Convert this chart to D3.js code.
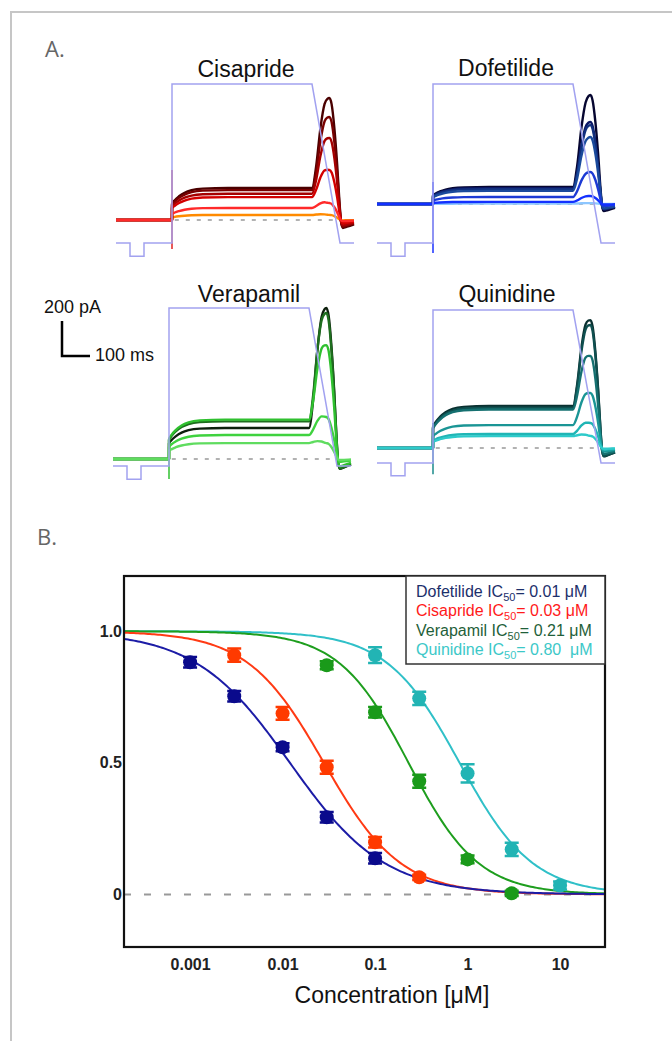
<!DOCTYPE html>
<html>
<head>
<meta charset="utf-8">
<script src="https://cdn.jsdelivr.net/npm/d3@7"></script>
<style>
body{margin:0;background:#fff}
svg{display:block}
</style>
</head>
<body>
<script>
// ---- A. hERG current traces ----
// plateau current during the step and peak tail current on the ramp (pA), one entry per trace
const cisaprideStep = [29, 183, 171, 150, 131, 69]
const cisapridePeak = [29, 697, 589, 469, 286, 97]
const dofetilideStep = [2, 97, 90, 85, 75, 40, 12]
const dofetilidePeak = [5, 623, 469, 451, 383, 183, 46]
const verapamilStep = [177, 215, 225, 137, 91]
const verapamilPeak = [863, 834, 651, 240, 91]
const quinidineStep = [240, 230, 220, 131, 80, 68]
const quinidinePeak = [731, 703, 526, 314, 143, 69]
// capacitive transient at step onset [up, down], pA
const spikes = [[286, -166], [126, -280], [0, -114], [143, -150]]

// shared trace template: time (ms), fraction of plateau, fraction of tail peak
const traceT =     [0, 199.9, 200.1, 210, 225, 245, 270, 310, 400, 700, 715, 730, 745, 755, 762, 770, 780, 790, 798, 804, 810, 825, 850]
const stepShape =  [0, 0, 0.5, 0.62, 0.74, 0.85, 0.93, 0.98, 1, 1, 0.85, 0.5, 0.2, 0.05, 0, 0, 0, 0, 0, 0, 0, 0, 0]
const tailShape =  [0, 0, 0, 0, 0, 0, 0, 0, 0, 0, 0.22, 0.62, 0.9, 0.98, 1, 0.95, 0.75, 0.45, 0.15, -0.02, -0.065, -0.055, -0.035]

// voltage protocol (ms, mV)
const protoT = [0, 50, 50, 100, 100, 200, 200, 700, 800, 850]
const protoV = [-80, -80, -90, -90, -80, -80, 40, 40, -80, -80]

// ---- B. concentration response ----
const concDof = [0.001, 0.003, 0.01, 0.03, 0.1]
const respDof = [0.882, 0.753, 0.559, 0.293, 0.137]
const semDof = [0.02, 0.02, 0.015, 0.02, 0.02]
const concCis = [0.003, 0.01, 0.03, 0.1, 0.3]
const respCis = [0.909, 0.688, 0.483, 0.198, 0.065]
const semCis = [0.025, 0.024, 0.025, 0.02, 0.01]
const concVer = [0.03, 0.1, 0.3, 1, 3]
const respVer = [0.871, 0.692, 0.43, 0.133, 0.004]
const semVer = [0.015, 0.02, 0.025, 0.015, 0.01]
const concQui = [0.1, 0.3, 1, 3, 10]
const respQui = [0.909, 0.745, 0.46, 0.171, 0.034]
const semQui = [0.03, 0.025, 0.035, 0.025, 0.015]
// Hill fits
const fitIC50 = [0.012, 0.028, 0.23, 0.82]
const fitHill = [0.85, 1.05, 1.15, 1.1]
const legendNames = ['Dofetilide', 'Cisapride', 'Verapamil', 'Quinidine']
const legendIC50 = ['0.01 μM', '0.03 μM', '0.21 μM', '0.80\u00a0 μM']
const xTicks = [0.001, 0.01, 0.1, 1, 10]
const xTickLabels = ['0.001', '0.01', '0.1', '1', '10']
const yTicks = [0, 0.5, 1]
const yTickLabels = ['0', '0.5', '1.0']

const W = 672, H = 1041
const font = '"Liberation Sans", Arial, sans-serif'
const svg = d3.select('body').append('svg')
	.attr('width', W).attr('height', H)
	.style('font-family', font)

// page frame
svg.append('path')
	.attr('d', `M11,${H}V12H${W}`)
	.attr('fill', 'none').attr('stroke', '#c6c6c6').attr('stroke-width', 2)

svg.append('text').attr('x', 45).attr('y', 57).text('A.')
	.attr('font-family', '"Open Sans", sans-serif').attr('font-size', 22).attr('fill', '#666')
svg.append('text').attr('x', 37).attr('y', 545).text('B.')
	.attr('font-family', '"Open Sans", sans-serif').attr('font-size', 22).attr('fill', '#666')

const pxPerMs = 0.28, pxPer200pA = 35
const panels = [
	{name: 'Cisapride', step: cisaprideStep, peak: cisapridePeak,
	 colors: ['#ff8a00', '#4a0000', '#780000', '#a50000', '#d30000', '#ff2a2a'], spikeColor: '#e02020',
	 x0: 116, zeroY: 220, vTop: 84, vHold: 243, tx: 246, ty: 77},
	{name: 'Dofetilide', step: dofetilideStep, peak: dofetilidePeak,
	 colors: ['#8cc6ff', '#060630', '#0b1766', '#12307e', '#1a4a9c', '#1c3ad4', '#1230ff'], spikeColor: '#1a30ff',
	 x0: 377, zeroY: 204, vTop: 84, vHold: 243, tx: 506, ty: 76},
	{name: 'Verapamil', step: verapamilStep, peak: verapamilPeak,
	 colors: ['#0d1f0d', '#1e6e1e', '#2fc02f', '#3fd23f', '#5fdc5f'], spikeColor: '#30c030',
	 x0: 113, zeroY: 459, vTop: 308, vHold: 466, tx: 249, ty: 302},
	{name: 'Quinidine', step: quinidineStep, peak: quinidinePeak,
	 colors: ['#0a3030', '#0f4f4f', '#157070', '#1a9595', '#20b5b5', '#2ecaca'], spikeColor: '#1a8a8a',
	 x0: 377, zeroY: 448, vTop: 310, vHold: 463, tx: 507, ty: 302}
]

panels.forEach((p, pi) => {
	const g = svg.append('g')
	const x = d3.scaleLinear().domain([0, 850]).range([p.x0, p.x0 + 850 * pxPerMs])
	const y = d3.scaleLinear().domain([0, 200]).range([p.zeroY, p.zeroY - pxPer200pA])
	const v = d3.scaleLinear().domain([-80, 40]).range([p.vHold, p.vTop])

	g.append('line')
		.attr('x1', x(210)).attr('x2', x(780))
		.attr('y1', y(0)).attr('y2', y(0))
		.attr('stroke', '#999').attr('stroke-width', 1.5).attr('stroke-dasharray', '4,7')

	const line = d3.line()
		.x(d => x(d[0]))
		.y(d => y(d[1]))
		.curve(d3.curveMonotoneX)

	const traces = p.step.map((s, i) => traceT.map((t, k) => [t, s * stepShape[k] + p.peak[i] * tailShape[k]]))
	g.selectAll('path.trace')
		.data(traces)
		.join('path')
		.attr('class', 'trace')
		.attr('fill', 'none')
		.attr('stroke', (d, i) => p.colors[i])
		.attr('stroke-width', 2.4)
		.attr('stroke-linejoin', 'round')
		.attr('d', line)

	g.append('line')
		.attr('x1', x(200)).attr('x2', x(200))
		.attr('y1', y(spikes[pi][0])).attr('y2', y(spikes[pi][1]))
		.attr('stroke', p.spikeColor).attr('stroke-width', 1.5)

	g.append('path')
		.datum(protoT.map((t, i) => [t, protoV[i]]))
		.attr('fill', 'none')
		.attr('stroke', '#a2a2f0')
		.attr('stroke-width', 1.5)
		.attr('d', d3.line().x(d => x(d[0])).y(d => v(d[1])))

	g.append('text')
		.attr('x', p.tx).attr('y', p.ty)
		.attr('text-anchor', 'middle')
		.attr('font-size', 23).attr('fill', '#111')
		.text(p.name)

	// scale bar sits left of the Verapamil record
	if (p.name === 'Verapamil') {
		const bx = 62, by = 356
		const h = y(0) - y(200), w = x(100) - x(0)
		g.append('path')
			.attr('d', `M${bx},${by - h}V${by}H${bx + w}`)
			.attr('fill', 'none').attr('stroke', '#000').attr('stroke-width', 2.5)
		g.append('text').attr('x', 44).attr('y', 313).attr('font-size', 18).attr('fill', '#111').text('200 pA')
		g.append('text').attr('x', 95).attr('y', 361).attr('font-size', 18).attr('fill', '#111').text('100 ms')
	}
})

// ---- panel B ----
const plotL = 124, plotR = 605, plotT = 576, plotB = 947
const xB = d3.scaleLog().domain([0.000193, 30.6]).range([plotL, plotR])
const yB = d3.scaleLinear().domain([-0.2, 1.21]).range([plotB, plotT])

const series = [
	{conc: concDof, resp: respDof, sem: semDof, curve: '#1c1ca6', dot: '#0a0a8c', text: '#1c2f6b'},
	{conc: concCis, resp: respCis, sem: semCis, curve: '#ff3a14', dot: '#ff3a00', text: '#ff1a1a'},
	{conc: concVer, resp: respVer, sem: semVer, curve: '#1e9e1e', dot: '#1a9a1a', text: '#1f5f3a'},
	{conc: concQui, resp: respQui, sem: semQui, curve: '#30c0c8', dot: '#22b4b4', text: '#3cc8c8'}
]

svg.append('line')
	.attr('x1', plotL).attr('x2', plotR).attr('y1', yB(0)).attr('y2', yB(0))
	.attr('stroke', '#999').attr('stroke-width', 2).attr('stroke-dasharray', '7,13')

const [d0, d1] = xB.domain().map(Math.log10)
const grid = d3.range(0, 241).map(i => Math.pow(10, d0 + (d1 - d0) * i / 240))
const hill = d3.line().x(d => xB(d[0])).y(d => yB(d[1]))

// draw order: quinidine, verapamil, cisapride, dofetilide
const order = [3, 2, 1, 0]
order.forEach(si => {
	const s = series[si]
	svg.append('path')
		.datum(grid.map(c => [c, 1 / (1 + Math.pow(c / fitIC50[si], fitHill[si]))]))
		.attr('fill', 'none').attr('stroke', s.curve).attr('stroke-width', 2)
		.attr('d', hill)
})

order.forEach(si => {
	const s = series[si]
	const pts = s.conc.map((c, i) => ({c, r: s.resp[i], e: s.sem[i]}))
	const g = svg.append('g').attr('stroke', s.dot).attr('fill', s.dot)
	g.selectAll('path.err').data(pts).join('path')
		.attr('class', 'err')
		.attr('fill', 'none').attr('stroke-width', 2.5)
		.attr('d', d => {
			const cx = xB(d.c), y1 = yB(d.r + d.e), y2 = yB(d.r - d.e)
			return `M${cx - 7},${y1}H${cx + 7}M${cx},${y1}V${y2}M${cx - 7},${y2}H${cx + 7}`
		})
	g.selectAll('circle').data(pts).join('circle')
		.attr('cx', d => xB(d.c)).attr('cy', d => yB(d.r)).attr('r', 7)
		.attr('stroke', 'none')
})

// axes
svg.append('g')
	.attr('transform', `translate(0,${plotB})`)
	.call(d3.axisBottom(xB).tickValues(xTicks).tickFormat((d, i) => xTickLabels[i]).tickSize(0).tickPadding(11.6))
	.call(g => g.select('.domain').remove())
	.attr('font-size', 16).attr('font-family', font).attr('font-weight', 'bold')
	.selectAll('text').attr('fill', '#222')

svg.append('g')
	.attr('transform', `translate(${plotL},0)`)
	.call(d3.axisLeft(yB).tickValues(yTicks).tickFormat((d, i) => yTickLabels[i]).tickSize(0).tickPadding(2))
	.call(g => g.select('.domain').remove())
	.attr('font-size', 16).attr('font-family', font).attr('font-weight', 'bold')
	.selectAll('text').attr('fill', '#222')

svg.append('rect')
	.attr('x', plotL).attr('y', plotT).attr('width', plotR - plotL).attr('height', plotB - plotT)
	.attr('fill', 'none').attr('stroke', '#111').attr('stroke-width', 2.2)

// legend
const lg = svg.append('g')
lg.append('rect')
	.attr('x', 406).attr('y', plotT).attr('width', plotR - 406).attr('height', 88)
	.attr('fill', '#fff').attr('stroke', '#333').attr('stroke-width', 1.5)
lg.selectAll('text').data(legendNames).join('text')
	.attr('x', 416).attr('y', (d, i) => 597 + i * 19.3)
	.attr('font-size', 16)
	.attr('fill', (d, i) => series[i].text)
	.each(function(d, i) {
		const t = d3.select(this)
		t.append('tspan').text(d + ' IC')
		t.append('tspan').attr('dy', 4).attr('font-size', 11).text('50')
		t.append('tspan').attr('dy', -4).text('= ' + legendIC50[i])
	})

svg.append('text')
	.attr('x', 392).attr('y', 1003)
	.attr('text-anchor', 'middle').attr('font-size', 23).attr('fill', '#111')
	.text('Concentration [μM]')
</script>
</body>
</html>
